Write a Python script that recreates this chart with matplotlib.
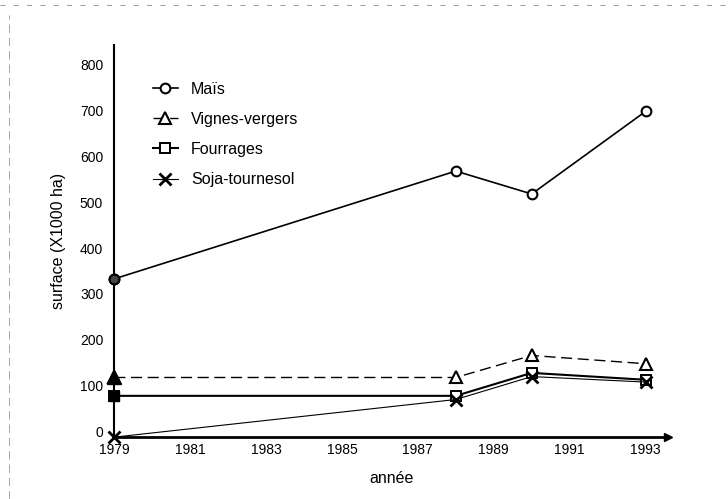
import numpy as np
import matplotlib.pyplot as plt
import matplotlib.transforms as mtransforms
from matplotlib.lines import Line2D

plt.rcParams['font.family'] = ['Liberation Sans', 'DejaVu Sans']

# data (surface in 1000 ha)
years = [1979, 1988, 1990, 1993]
mais = [345, 580, 530, 710]
vignes = [130, 130, 178, 160]
fourrages = [90, 90, 140, 125]
soja = [0, 82, 132, 120]
xticks = [1979, 1981, 1983, 1985, 1987, 1989, 1991, 1993]
yticks = [0, 100, 200, 300, 400, 500, 600, 700, 800]

fig = plt.figure(figsize=(7.28, 4.99), dpi=100)
ax = fig.add_axes([0.157, 0.124, 0.761, 0.786])

# series
ax.plot(years, mais, color='black', lw=1.2, marker='o', ms=7, mfc='white',
        mec='black', mew=1.5, label='Maïs', zorder=3, clip_on=False)
ax.plot(years, vignes, color='black', lw=1.0, ls=(0, (8, 4)), marker='^', ms=9,
        mfc='white', mec='black', mew=1.5, label='Vignes-vergers', zorder=3,
        clip_on=False)
ax.plot(years, fourrages, color='black', lw=1.5, marker='s', ms=7, mfc='white',
        mec='black', mew=1.4, label='Fourrages', zorder=3, clip_on=False)
ax.plot(years, soja, color='black', lw=0.8, marker='x', ms=9, mew=2.0,
        label='Soja-tournesol', zorder=4, clip_on=False)

# first year markers are solid black in the scan
ax.plot(years[0], mais[0], 'o', ms=7, mfc='#444444', mec='black', mew=1.5,
        zorder=5, clip_on=False)
ax.plot(years[0], vignes[0], '^', ms=10, mfc='black', mec='black',
        zorder=5, clip_on=False)
ax.plot(years[0], fourrages[0], 's', ms=7, mfc='black', mec='black',
        zorder=5, clip_on=False)

ax.set_xlim(1979, 1993.6)
ax.set_ylim(0, 855)
ax.set_xticks(xticks)
ax.set_yticks(yticks)
ax.tick_params(length=0, labelsize=10, pad=4)
ax.tick_params(axis='y', pad=8)

# y labels sit a little above their value in the scan
shift = mtransforms.ScaledTranslation(0, 4 / 72, fig.dpi_scale_trans)
for lab in ax.get_yticklabels():
    lab.set_transform(lab.get_transform() + shift)

for s in ['top', 'right']:
    ax.spines[s].set_visible(False)
ax.spines['left'].set_linewidth(1.5)
ax.spines['bottom'].set_linewidth(2.0)

# arrow heads on the axes
ax.plot(1, 0, '>k', ms=6, transform=ax.get_yaxis_transform(), clip_on=False)
ax.plot(0, 1, '^k', ms=6, transform=ax.get_xaxis_transform(), clip_on=False)

ax.set_xlabel('année', fontsize=11.5, labelpad=10)
ax.set_ylabel('surface (X1000 ha)', fontsize=11.5, labelpad=10)

leg = ax.legend(loc='upper left', bbox_to_anchor=(0.19, 0.865),
                bbox_transform=fig.transFigure, frameon=False,
                fontsize=11.5, handlelength=1.6, labelspacing=0.95,
                handletextpad=0.8)

# faint scan border lines
fig.add_artist(Line2D([0.0, 1.0], [0.99, 0.99], color='#888888', lw=0.6,
                      ls=(0, (6, 10))))
fig.add_artist(Line2D([0.012, 0.012], [0.0, 0.97], color='#999999', lw=0.6,
                      ls=(0, (10, 6))))

fig.savefig('out.png', dpi=100)
